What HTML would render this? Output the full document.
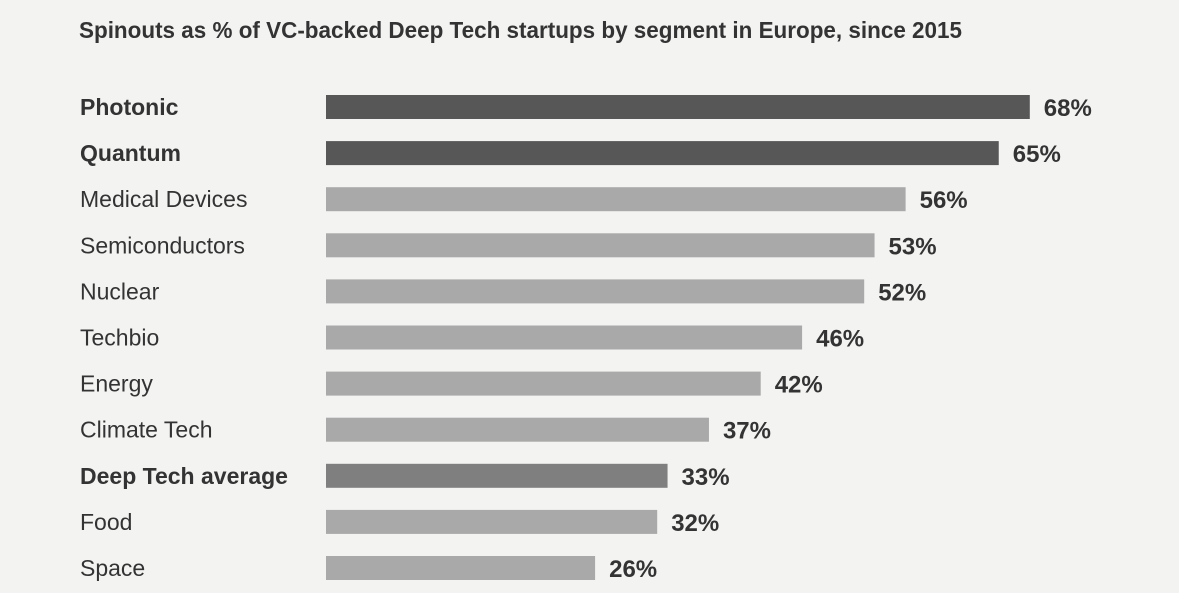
<!DOCTYPE html>
<html><head><meta charset="utf-8"><style>
body{margin:0;background:#f3f3f2;}
svg{display:block;font-family:"Liberation Sans Narrow","Liberation Sans",sans-serif;}
</style></head><body>
<svg id="chart" width="1179" height="593" viewBox="0 0 1179 593">
<rect width="1179" height="593" fill="#f3f3f2"/>
<text x="79" y="38" font-size="23" font-weight="bold" fill="#333" textLength="883" lengthAdjust="spacingAndGlyphs">Spinouts as % of VC-backed Deep Tech startups by segment in Europe, since 2015</text>
<g id="bars"></g>
</svg>
<script>
const categories=["Photonic","Quantum","Medical Devices","Semiconductors","Nuclear","Techbio","Energy","Climate Tech","Deep Tech average","Food","Space"];
const values=[68,65,56,53,52,46,42,37,33,32,26];
const highlight=["dark","dark","","","","","","","avg","",""];
const x0=326, pxPer=10.35, y0=107, step=46.1, bh=24;
const xs=v=>x0+v*pxPer;
const ys=i=>y0+i*step;
const g=document.getElementById('bars');
const NS="http://www.w3.org/2000/svg";
categories.forEach((c,i)=>{
  const cy=ys(i);
  const col=highlight[i]==="dark"?"#575757":highlight[i]==="avg"?"#7f7f7f":"#a9a9a9";
  const bold=highlight[i]!=="";
  const r=document.createElementNS(NS,'rect');
  r.setAttribute('x',x0);r.setAttribute('y',cy-bh/2);
  r.setAttribute('width',xs(values[i])-x0);r.setAttribute('height',bh);
  r.setAttribute('fill',col);
  
  
  g.appendChild(r);
  const t=document.createElementNS(NS,'text');
  t.setAttribute('x',80);t.setAttribute('y',cy+8);
  t.setAttribute('font-size','23');t.setAttribute('fill','#333');
  if(bold)t.setAttribute('font-weight','bold');
  t.textContent=c;
  
  
  g.appendChild(t);
  const v=document.createElementNS(NS,'text');
  v.setAttribute('x',xs(values[i])+14);v.setAttribute('y',cy+9);
  v.setAttribute('font-size','24');v.setAttribute('font-weight','bold');v.setAttribute('fill','#333');
  v.textContent=values[i]+'%';
  
  
  g.appendChild(v);
});
</script>
</body></html>
